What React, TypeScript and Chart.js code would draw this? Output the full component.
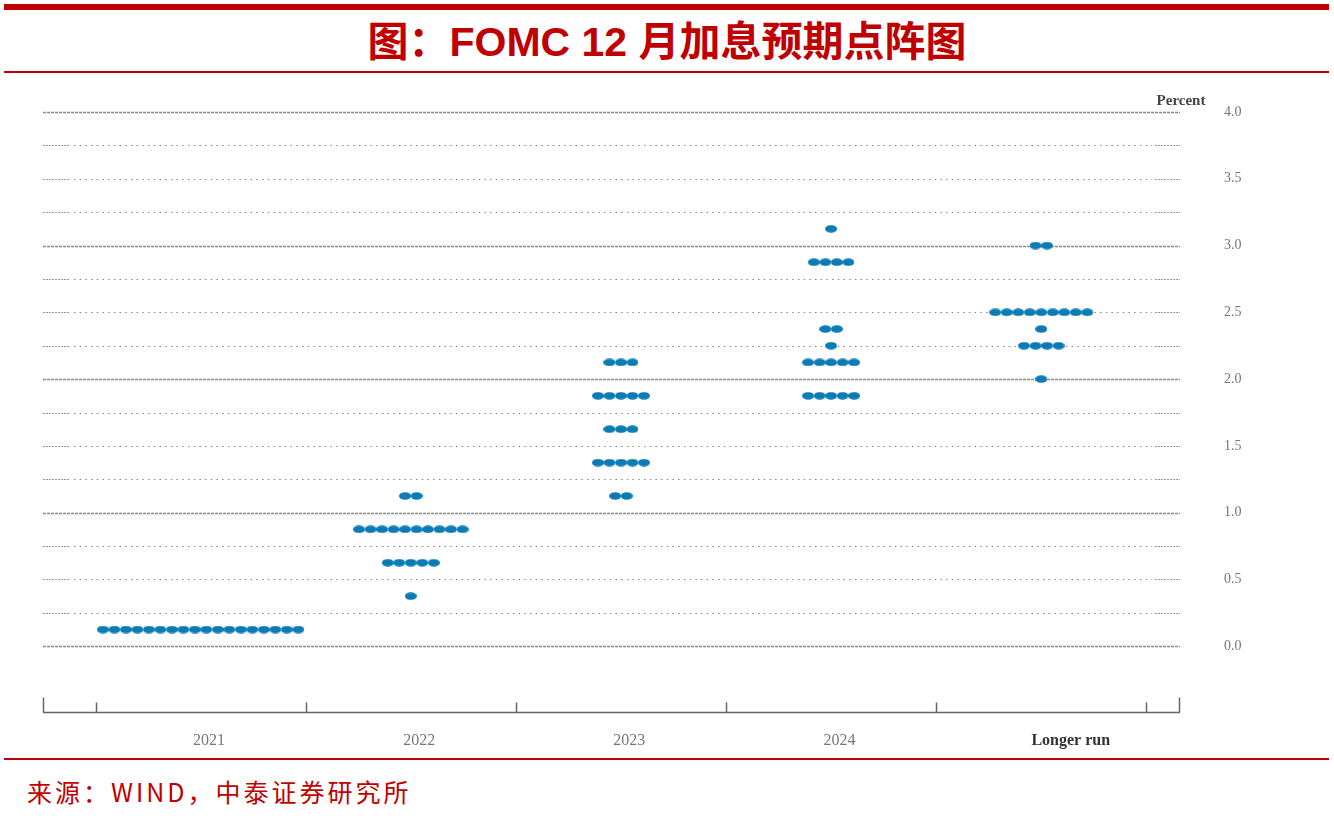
import React, { useEffect, useRef } from "react";
import { Chart, registerables } from "chart.js";

Chart.register(...registerables);

// ---------- data ----------
const CATEGORIES = ["2021", "2022", "2023", "2024", "Longer run"];

const rates2021 = [0.125];
const counts2021 = [18];

const rates2022 = [1.125, 0.875, 0.625, 0.375];
const counts2022 = [2, 10, 5, 1];

const rates2023 = [2.125, 1.875, 1.625, 1.375, 1.125];
const counts2023 = [3, 5, 3, 5, 2];

const rates2024 = [3.125, 2.875, 2.375, 2.25, 2.125, 1.875];
const counts2024 = [1, 4, 2, 1, 5, 5];

const ratesLonger = [3.0, 2.5, 2.375, 2.25, 2.0];
const countsLonger = [2, 9, 1, 4, 1];

const Y_MIN = -0.5;
const Y_MAX = 4.0;
const Y_GRID_STEP = 0.25;
const Y_LABEL_STEP = 0.5;

// ---------- layout / style ----------
const DOT_STEP = 0.0547; // horizontal spacing between dots, in category units
const X_MIN = -0.75;
const X_MAX = 4.66;
const X_LABEL_NUDGE = [0.04, 0.04, 0.04, 0.04, 0.14];
const DOT_COLOR = "#0B7BB5";
const RED = "#C00000";

const GROUPS = [
  { rates: rates2021, counts: counts2021 },
  { rates: rates2022, counts: counts2022 },
  { rates: rates2023, counts: counts2023 },
  { rates: rates2024, counts: counts2024 },
  { rates: ratesLonger, counts: countsLonger },
];

function buildPoints(ci: number, rates: number[], counts: number[]) {
  const pts: { x: number; y: number }[] = [];
  rates.forEach((r, j) => {
    const n = counts[j];
    for (let k = 0; k < n; k++) {
      pts.push({ x: ci + (k - (n - 1) / 2) * DOT_STEP, y: r });
    }
  });
  return pts;
}

const gridPlugin = {
  id: "fedGrid",
  beforeDatasetsDraw(chart: any) {
    const { ctx, chartArea } = chart;
    const { left, right, top, bottom } = chartArea;
    const ys = chart.scales.y;
    const xs = chart.scales.x;
    ctx.save();
    const line = (x1: number, x2: number, y: number) => {
      ctx.beginPath();
      ctx.moveTo(x1, y);
      ctx.lineTo(x2, y);
      ctx.stroke();
    };
    ys.ticks.forEach((t: any) => {
      const v = t.value;
      if (v < -1e-9) return;
      const py = Math.round(ys.getPixelForValue(v)) + 0.5;
      const isInt = Math.abs(v - Math.round(v)) < 1e-9;
      if (isInt) {
        ctx.strokeStyle = "#8a8a8a";
        ctx.lineWidth = 1.3;
        ctx.setLineDash([3, 1]);
        line(left, right, py);
      } else {
        ctx.strokeStyle = "#999";
        ctx.lineWidth = 1;
        ctx.setLineDash([2, 1]);
        line(left, left + 27, py);
        line(right - 25, right, py);
        ctx.strokeStyle = "#858585";
        ctx.setLineDash([1.5, 4.2]);
        line(left + 31, right - 28, py);
      }
    });
    ctx.setLineDash([]);
    // x axis line and category boundary ticks
    ctx.strokeStyle = "#666";
    ctx.lineWidth = 1.5;
    const by = Math.round(bottom) - 0.5;
    line(left, right, by);
    const vline = (x: number, h: number) => {
      ctx.beginPath();
      ctx.moveTo(x, by);
      ctx.lineTo(x, by - h);
      ctx.stroke();
    };
    vline(left + 0.5, 15);
    vline(right - 0.5, 15);
    for (let i = 0; i <= CATEGORIES.length; i++) {
      vline(Math.round(xs.getPixelForValue(i - 0.5)) + 0.5, 10);
    }
    // "Percent" label
    ctx.fillStyle = "#444";
    ctx.font = 'bold 15px "Liberation Serif", serif';
    ctx.textAlign = "center";
    ctx.textBaseline = "middle";
    ctx.fillText("Percent", right + 1, top - 11);
    ctx.restore();
  },
};

export default function App() {
  const ref = useRef<HTMLCanvasElement>(null);

  useEffect(() => {
    if (!ref.current) return;
    const dot = document.createElement("canvas");
    dot.width = 12;
    dot.height = 8;
    const dctx = dot.getContext("2d")!;
    dctx.fillStyle = DOT_COLOR;
    dctx.beginPath();
    dctx.ellipse(6, 4, 6, 3.8, 0, 0, Math.PI * 2);
    dctx.fill();

    const datasets = GROUPS.map((g, i) => ({
      label: CATEGORIES[i],
      data: buildPoints(i, g.rates, g.counts),
      pointStyle: dot as any,
      pointRadius: 6,
      backgroundColor: DOT_COLOR,
      borderColor: DOT_COLOR,
      showLine: false,
    }));

    const chart = new Chart(ref.current, {
      type: "scatter",
      data: { datasets },
      options: {
        animation: false,
        responsive: false,
        maintainAspectRatio: false,
        layout: { padding: { left: 43, top: 32, right: 0, bottom: 0 } },
        plugins: { legend: { display: false }, tooltip: { enabled: false } },
        scales: {
          x: {
            type: "linear",
            min: X_MIN,
            max: X_MAX,
            grid: { display: false, drawTicks: false },
            border: { display: false },
            afterBuildTicks: (scale: any) => {
              scale.ticks = CATEGORIES.map((_, i) => ({ value: i + X_LABEL_NUDGE[i] }));
            },
            afterFit: (scale: any) => {
              scale.height = 47;
              scale.paddingLeft = 0;
              scale.paddingRight = 0;
            },
            ticks: {
              autoSkip: false,
              maxRotation: 0,
              padding: 18,
              callback: (_v: any, idx: number) => CATEGORIES[idx],
              color: (c: any) => (c.index === CATEGORIES.length - 1 ? "#333" : "#777"),
              font: (c: any) => ({
                family: '"Liberation Serif", serif',
                size: 16,
                weight: c.index === CATEGORIES.length - 1 ? "bold" : "normal",
              }),
            },
          },
          y: {
            type: "linear",
            position: "right",
            min: Y_MIN,
            max: Y_MAX,
            grid: { display: false, drawTicks: false },
            border: { display: false },
            afterBuildTicks: (scale: any) => {
              const ticks = [];
              const n = Math.round((Y_MAX - Y_MIN) / Y_GRID_STEP);
              for (let i = 0; i <= n; i++) ticks.push({ value: Y_MIN + i * Y_GRID_STEP });
              scale.ticks = ticks;
            },
            afterFit: (scale: any) => {
              scale.width = 154;
              scale.paddingTop = 0;
              scale.paddingBottom = 0;
            },
            ticks: {
              autoSkip: false,
              padding: 44,
              color: "#777",
              font: { family: '"Liberation Serif", serif', size: 14 },
              callback: (v: any) => {
                const n = Number(v);
                if (n < -1e-9) return "";
                const q = n / Y_LABEL_STEP;
                return Math.abs(q - Math.round(q)) < 1e-9 ? n.toFixed(1) : "";
              },
            },
          },
        },
      },
      plugins: [gridPlugin],
    });
    return () => chart.destroy();
  }, []);

  return (
    <div
      style={{
        position: "fixed",
        left: 0,
        top: 0,
        width: 1334,
        height: 836,
        background: "#fff",
        overflow: "hidden",
      }}
    >
      <div style={{ position: "absolute", left: 4, top: 4, width: 1325, height: 6, background: RED }} />
      <div
        style={{
          position: "absolute",
          left: 0,
          top: 20,
          width: 1334,
          height: 45,
          lineHeight: "45px",
          textAlign: "center",
          color: RED,
          fontSize: 41,
          fontWeight: "bold",
          fontFamily: '"Liberation Sans", "Noto Sans CJK SC", sans-serif',
          whiteSpace: "nowrap",
        }}
      >
        图：FOMC 12 月加息预期点阵图
      </div>
      <div style={{ position: "absolute", left: 4, top: 71, width: 1325, height: 1.5, background: RED }} />
      <canvas
        ref={ref}
        width={1334}
        height={680}
        style={{ position: "absolute", left: 0, top: 80, width: 1334, height: 680, display: "block" }}
      />
      <div style={{ position: "absolute", left: 4, top: 758, width: 1325, height: 1.5, background: RED }} />
      <div
        style={{
          position: "absolute",
          left: 27,
          top: 774,
          height: 34,
          lineHeight: "34px",
          color: RED,
          fontSize: 25,
          letterSpacing: 3,
          fontFamily: '"Noto Sans CJK SC", sans-serif',
          whiteSpace: "nowrap",
        }}
      >
        来源：WIND，中泰证券研究所
      </div>
    </div>
  );
}
